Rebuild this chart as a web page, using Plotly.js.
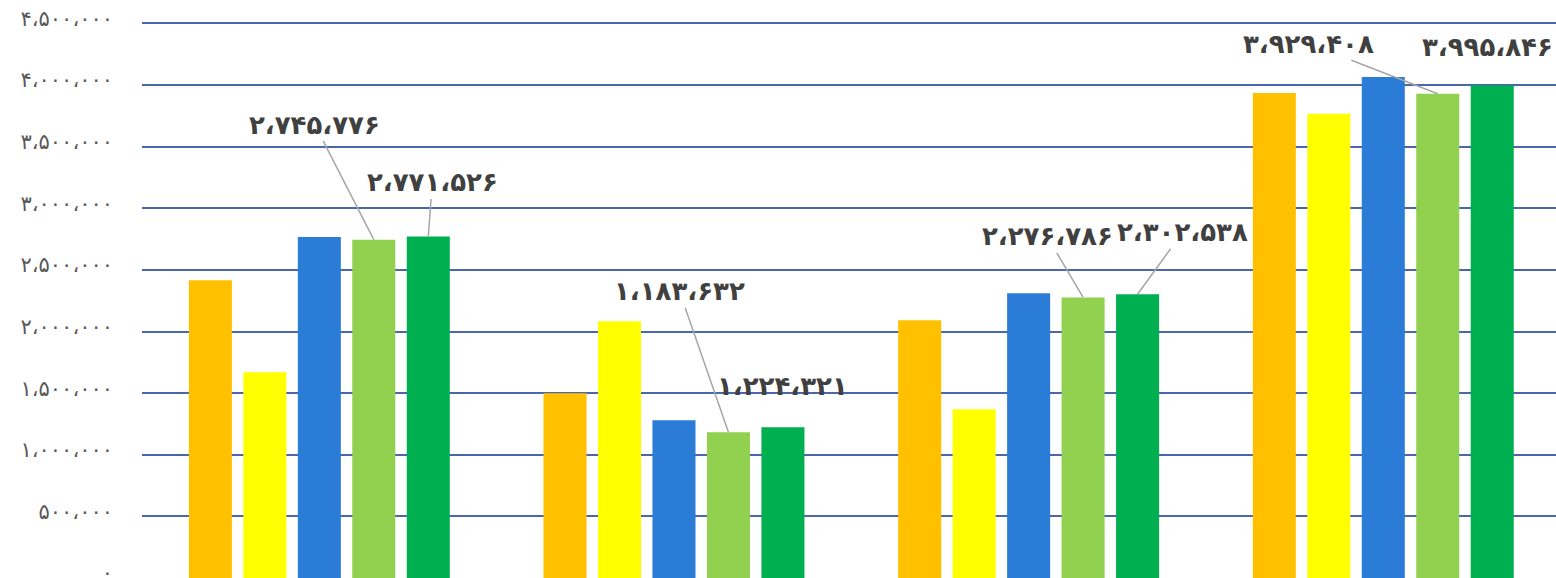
<!DOCTYPE html>
<html>
<head>
<meta charset="utf-8">
<script src="https://cdn.plot.ly/plotly-3.0.1.min.js"></script>
<style>html,body{margin:0;padding:0;background:#fff;}#chart{width:1556px;height:578px;}</style>
</head>
<body>
<div id="chart"></div>
<script>
// ---- data ----
const categories = ['گروه ۱', 'گروه ۲', 'گروه ۳', 'گروه ۴'];
const seriesA = [2416000, 1500000, 2092000, 3935000]; // orange
const seriesB = [1670000, 2084000, 1370000, 3768000]; // yellow
const seriesC = [2768000, 1281000, 2311000, 4065000]; // blue
const seriesD = [2745776, 1183632, 2276786, 3929408]; // light green
const seriesE = [2771526, 1224321, 2302538, 3995846]; // dark green
const tickValues = [0, 500000, 1000000, 1500000, 2000000, 2500000, 3000000, 3500000, 4000000, 4500000];

// ---- helpers ----
const faDigits = '۰۱۲۳۴۵۶۷۸۹';
function toFa(n) {
  const s = Math.round(n).toString().replace(/\B(?=(\d{3})+(?!\d))/g, '،');
  return s.replace(/[0-9]/g, d => faDigits[+d]);
}

const colors = ['#FFC000', '#FFFF00', '#2B7CD6', '#92D050', '#00B050'];
const allSeries = [seriesA, seriesB, seriesC, seriesD, seriesE];
const bargap = 0.232;

const traces = allSeries.map((vals, i) => ({
  type: 'bar',
  x: categories,
  y: vals,
  name: 'سری ' + (i + 1),
  marker: { color: colors[i], line: { width: 0 } },
  hoverinfo: 'none'
}));

// label placement (pixel offsets of label centre from the bar top)
const labelPlacement = {
  3: [ { ax: -59, ay: -115, line: true }, { ax: -49, ay: -141, line: true }, { ax: -36, ay: -61, line: true }, { ax: -129, ay: -50, line: true } ],
  4: [ { ax: 4, ay: -54, line: true }, { ax: 0, ay: -41, line: false }, { ax: 45, ay: -62, line: true }, { ax: -5, ay: -39, line: false } ]
};

const slot = (1 - bargap) / allSeries.length;
const annotations = [];
[3, 4].forEach(si => {
  allSeries[si].forEach((v, gi) => {
    const p = labelPlacement[si][gi];
    annotations.push({
      x: gi + (si - (allSeries.length - 1) / 2) * slot,
      y: v,
      xref: 'x', yref: 'y',
      text: toFa(v),
      showarrow: true,
      arrowhead: 0,
      arrowwidth: 1.5,
      arrowcolor: p.line ? '#A6A6A6' : 'rgba(0,0,0,0)',
      standoff: 0,
      ax: p.ax, ay: p.ay,
      font: { family: 'DejaVu Sans', size: 26, color: '#404040', weight: 'bold' }
    });
  });
});

const layout = {
  width: 1556,
  height: 578,
  margin: { l: 142, r: 0, t: 21, b: 0, pad: 0 },
  paper_bgcolor: '#ffffff',
  plot_bgcolor: '#ffffff',
  barmode: 'group',
  bargap: bargap,
  bargroupgap: 0.21,
  showlegend: false,
  xaxis: {
    type: 'category',
    range: [-0.5, 3.487],
    showticklabels: false,
    showgrid: false,
    zeroline: false,
    showline: false,
    ticks: ''
  },
  yaxis: {
    range: [0, 4520000],
    tickvals: tickValues,
    ticktext: tickValues.map(toFa),
    tickfont: { family: 'DejaVu Sans', size: 21, color: '#595959' },
    ticklabelstandoff: 28,
    ticklabelshift: -5,
    ticklabeloverflow: 'allow',
    showgrid: true,
    gridcolor: '#4A66AC',
    gridwidth: 2,
    zeroline: false,
    showline: false,
    ticks: ''
  },
  annotations: annotations
};

Plotly.newPlot('chart', traces, layout, { staticPlot: true, displayModeBar: false });
</script>
</body>
</html>
